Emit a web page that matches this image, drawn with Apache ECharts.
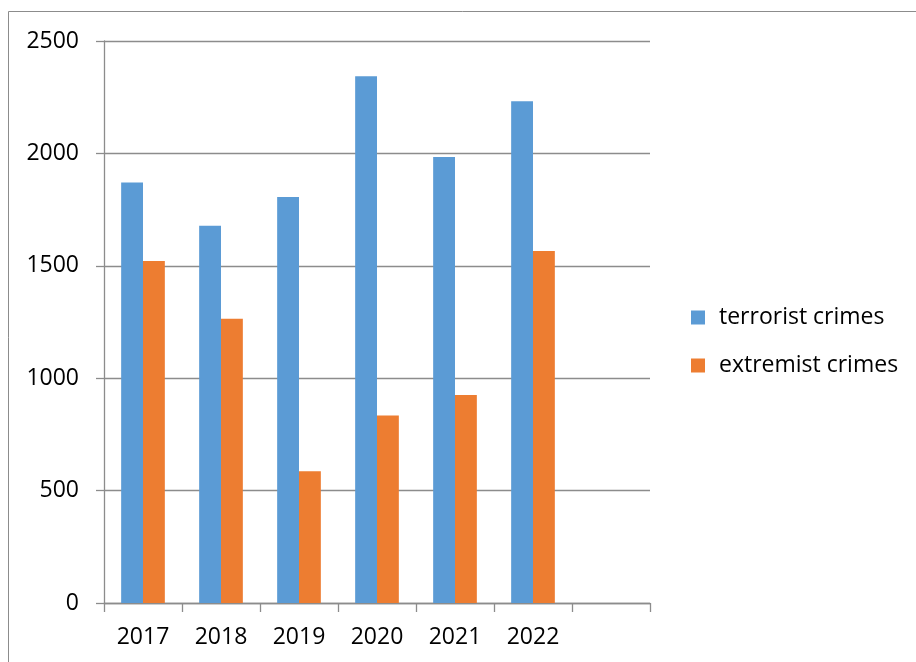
<!DOCTYPE html>
<html>
<head>
<meta charset="utf-8">
<script src="https://cdn.jsdelivr.net/npm/echarts@6/dist/echarts.min.js"></script>
<style>html,body{margin:0;padding:0;background:#fff}#c{width:916px;height:662px}</style>
</head>
<body>
<div id="c"></div>
<script>
const categories = ['2017', '2018', '2019', '2020', '2021', '2022', ''];
const terroristCrimes = [1870, 1678, 1806, 2343, 1984, 2232, null];
const extremistCrimes = [1521, 1265, 586, 834, 925, 1566, null];
const yTicks = { min: 0, max: 2500, interval: 500 };

const FONT = '"Open Sans", "Liberation Sans", sans-serif';
const GRID_COLOR = '#8c8c8c';
const chart = echarts.init(document.getElementById('c'));
chart.setOption({
  animation: false,
  backgroundColor: '#fff',
  graphic: [{
    type: 'rect',
    shape: { x: 8.5, y: 11.5, width: 1200, height: 1200 },
    style: { fill: 'none', stroke: '#8c8c8c', lineWidth: 1 },
    silent: true
  }],
  grid: { left: 104, right: 266, top: 41, bottom: 59, containLabel: false },
  legend: {
    orient: 'vertical',
    left: 686,
    top: 301,
    itemWidth: 14,
    itemHeight: 14,
    itemGap: 25,
    icon: 'rect',
    textStyle: { fontFamily: FONT, fontSize: 23, color: '#000', padding: [0, 0, 0, 9] },
    data: ['terrorist crimes', 'extremist crimes']
  },
  xAxis: {
    type: 'category',
    data: categories,
    axisLine: { lineStyle: { color: GRID_COLOR, width: 1.3 } },
    axisTick: { show: true, length: 9, lineStyle: { color: GRID_COLOR, width: 1.3 } },
    axisLabel: { fontFamily: FONT, fontSize: 23, color: '#000', margin: 23 }
  },
  yAxis: {
    type: 'value',
    min: yTicks.min,
    max: yTicks.max,
    interval: yTicks.interval,
    axisLine: { show: true, lineStyle: { color: GRID_COLOR, width: 1.3 } },
    axisTick: { show: true, length: 8, lineStyle: { color: GRID_COLOR, width: 1.3 } },
    splitLine: { lineStyle: { color: GRID_COLOR, width: 1.3 } },
    axisLabel: { fontFamily: FONT, fontSize: 23, color: '#000', margin: 25, formatter: v => String(v) }
  },
  series: [
    {
      name: 'terrorist crimes',
      type: 'bar',
      data: terroristCrimes,
      barGap: '0%',
      barCategoryGap: '44%',
      itemStyle: { color: '#5B9BD5' }
    },
    {
      name: 'extremist crimes',
      type: 'bar',
      data: extremistCrimes,
      barGap: '0%',
      barCategoryGap: '44%',
      itemStyle: { color: '#ED7D31' }
    }
  ]
});
</script>
</body>
</html>
